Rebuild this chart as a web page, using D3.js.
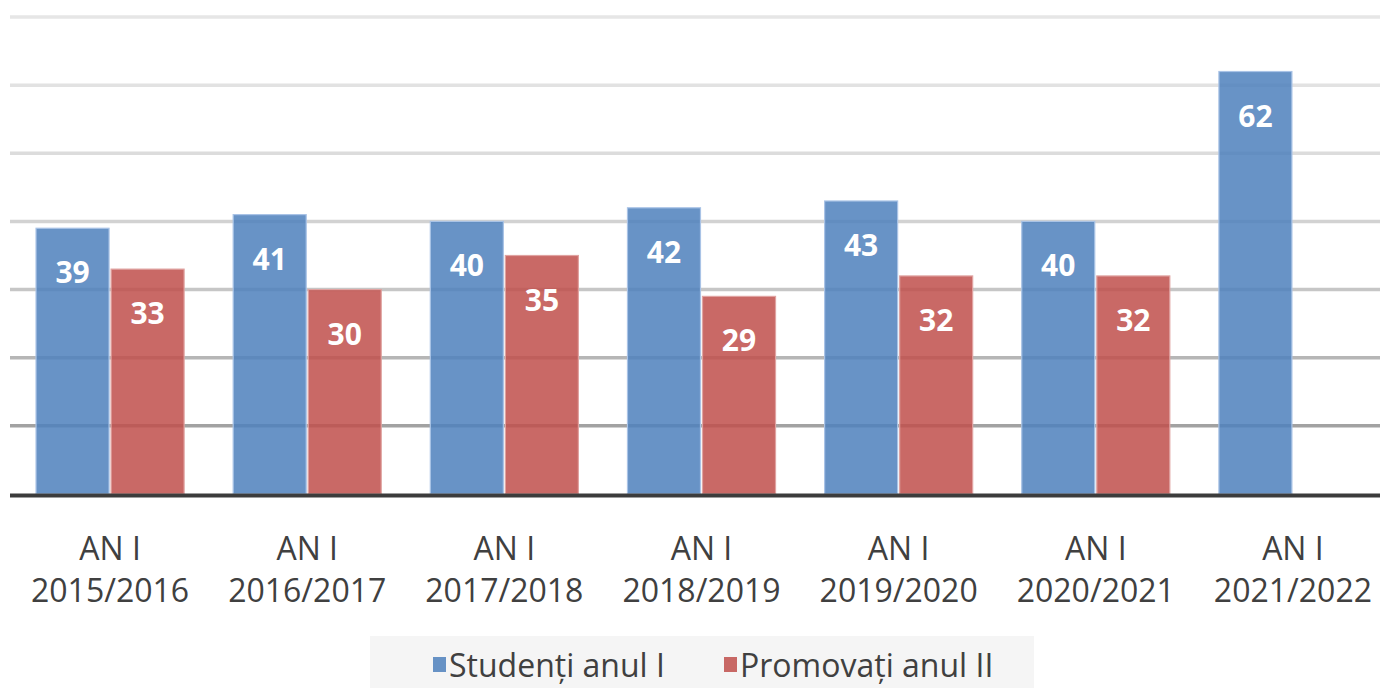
<!DOCTYPE html>
<html>
<head>
<meta charset="utf-8">
<script src="https://cdn.jsdelivr.net/npm/d3@7"></script>
<style>
  html, body { margin: 0; padding: 0; background: #fff; }
  svg { display: block; }
</style>
</head>
<body>
<svg id="chart" width="1380" height="688"></svg>
<script>
const categories = ["AN I\n2015/2016", "AN I\n2016/2017", "AN I\n2017/2018", "AN I\n2018/2019", "AN I\n2019/2020", "AN I\n2020/2021", "AN I\n2021/2022"];
const seriesNames = ["Studenți anul I", "Promovați anul II"];
const studenti = [39, 41, 40, 42, 43, 40, 62];
const promovati = [33, 30, 35, 29, 32, 32, null];
const yTicks = [10, 20, 30, 40, 50, 60, 70];
const seriesColors = ["#4f81bd", "#c0504d"];
const gridColors = ["#a2a2a2", "#b6b6b6", "#c6c6c6", "#d2d2d2", "#dcdcdc", "#e2e2e2", "#e6e6e6"];

const svg = d3.select("#chart");
const font = "'Open Sans', 'DejaVu Sans', sans-serif";

const x0 = d3.scaleBand().domain(categories).range([11.5, 1391.5]).paddingInner(0).paddingOuter(0);
const x1 = d3.scaleBand().domain(seriesNames).range([0, x0.bandwidth()]).paddingInner(0.027).paddingOuter(0.327);
const y = d3.scaleLinear().domain([0, 70]).range([494, 17]);

// gridlines
svg.append("g").selectAll("line").data(yTicks).join("line")
  .attr("x1", 10).attr("x2", 1380)
  .attr("y1", d => y(d)).attr("y2", d => y(d))
  .attr("stroke", (d, i) => gridColors[i])
  .attr("stroke-width", 3.5);

const data = categories.map((c, i) => ({ cat: c, vals: [studenti[i], promovati[i]] }));

const groups = svg.append("g").selectAll("g").data(data).join("g")
  .attr("transform", d => `translate(${x0(d.cat)},0)`);

const barData = d => d.vals.map((v, j) => ({ name: seriesNames[j], v, j })).filter(e => e.v != null);

groups.selectAll("rect").data(barData).join("rect")
  .attr("x", e => x1(e.name))
  .attr("y", e => y(e.v))
  .attr("width", x1.bandwidth())
  .attr("height", e => y(0) - y(e.v))
  .attr("fill", e => seriesColors[e.j])
  .attr("fill-opacity", 0.86)
  .attr("stroke", e => e.j === 0 ? "#a9c3e6" : "#e0a3a1")
  .attr("stroke-width", 1.2);

groups.selectAll("text.val").data(barData).join("text")
  .attr("class", "val")
  .attr("x", e => x1(e.name) + x1.bandwidth() / 2)
  .attr("y", e => y(e.v) + 55)
  .attr("text-anchor", "middle")
  .attr("fill", "#fff")
  .attr("font-family", font)
  .attr("font-weight", "bold")
  .attr("font-size", 30)
  .text(e => e.v);

// baseline
svg.append("line")
  .attr("x1", 10).attr("x2", 1380)
  .attr("y1", y(0) + 1.5).attr("y2", y(0) + 1.5)
  .attr("stroke", "#3c3c3c").attr("stroke-width", 4);

// category labels
const lab = svg.append("g").selectAll("text").data(categories).join("text")
  .attr("x", d => x0(d) + x0.bandwidth() / 2)
  .attr("text-anchor", "middle")
  .attr("fill", "#404040")
  .attr("font-family", font)
  .attr("font-size", 32);
lab.each(function(d) {
  const parts = d.split("\n");
  d3.select(this).selectAll("tspan").data(parts).join("tspan")
    .attr("x", x0(d) + x0.bandwidth() / 2)
    .attr("y", (p, k) => 560 + k * 42)
    .text(p => p);
});

// legend
svg.append("rect").attr("x", 370).attr("y", 636).attr("width", 664).attr("height", 60).attr("fill", "#f5f5f5");
const legX = [433, 724];
const leg = svg.append("g").selectAll("g").data(seriesNames).join("g")
  .attr("transform", (d, i) => `translate(${legX[i]},0)`);
leg.append("rect").attr("x", 0).attr("y", 657).attr("width", 13).attr("height", 15)
  .attr("fill", (d, i) => seriesColors[i]).attr("fill-opacity", 0.86);
leg.append("text").attr("x", 16).attr("y", 677)
  .attr("fill", "#404040").attr("font-family", font).attr("font-size", 32)
  .text(d => d);
</script>
</body>
</html>
